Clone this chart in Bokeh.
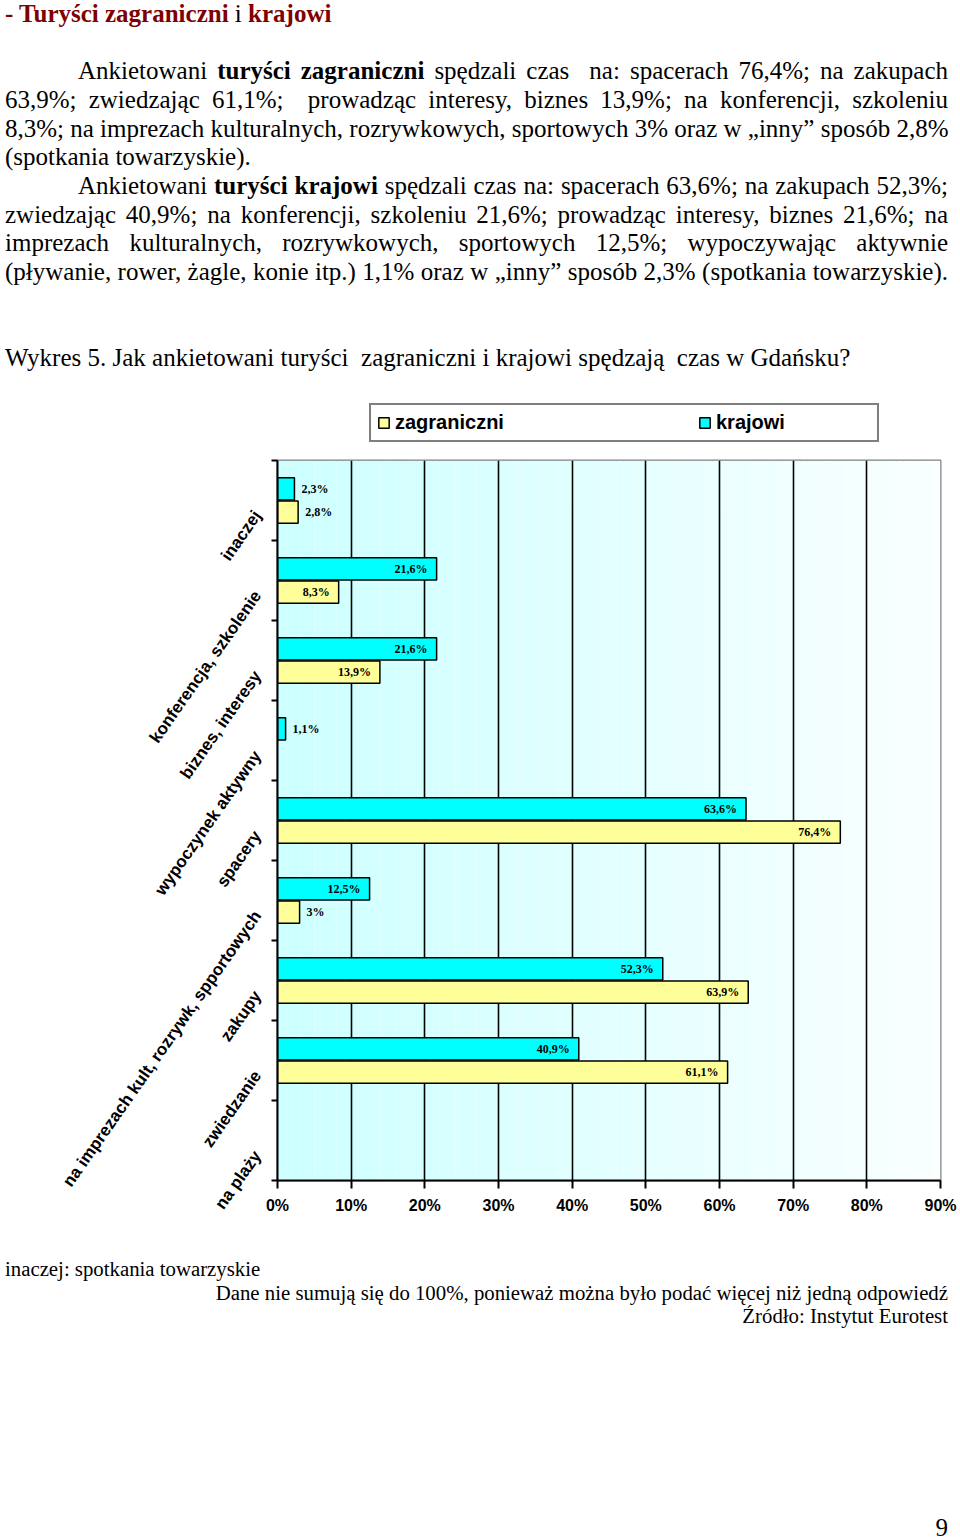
import numpy as np
from bokeh.plotting import figure
from bokeh.models import (ColumnDataSource, FixedTicker, PrintfTickFormatter, Legend,
                          LegendItem, LabelSet, Range1d, Div)
from bokeh.layouts import column
from bokeh.embed import file_html
from bokeh.resources import INLINE

# ---------------- data ----------------
categories = ["na plaży", "zwiedzanie", "zakupy",
              "na imprezach kult, rozrywk, spportowych", "spacery",
              "wypoczynek aktywny", "biznes, interesy",
              "konferencja, szkolenie", "inaczej"]
nan = float("nan")
zagraniczni = [nan, 61.1, 63.9, 3.0, 76.4, nan, 13.9, 8.3, 2.8]
krajowi = [nan, 40.9, 52.3, 12.5, 63.6, 1.1, 21.6, 21.6, 2.3]
series_names = ["zagraniczni", "krajowi"]
x_ticks = [0, 10, 20, 30, 40, 50, 60, 70, 80, 90]

YELLOW = "#FFFF99"
CYAN = "#00FFFF"
FONT = "Liberation Sans"


def fmt(v):
    if float(v).is_integer():
        return "%d%%" % int(v)
    return ("%.1f" % v).replace(".", ",") + "%"


n = len(categories)
centers = np.arange(n) + 0.5
boundaries = np.arange(n + 1)
OFF = 0.145
BAR_H = 0.28
LABEL_SHIFT = 0.15   # rotated category labels sit a little below the centre


def make_source(values, offset):
    ys, vs, labs = [], [], []
    for c, v in zip(centers, values):
        if np.isnan(v):
            continue
        ys.append(c + offset)
        vs.append(v)
        labs.append(fmt(v))
    return ColumnDataSource(dict(y=ys, value=vs, label=labs))


src_z = make_source(zagraniczni, -OFF)
src_k = make_source(krajowi, +OFF)

BL, BR = 277, 18
x_lo, x_hi = x_ticks[0], x_ticks[-1]
p = figure(x_range=Range1d(x_lo, x_hi), y_range=Range1d(0, n),
           frame_width=663, frame_height=720,
           min_border_left=BL, min_border_right=BR,
           min_border_top=5, min_border_bottom=50,
           output_backend="svg", toolbar_location=None,
           background_fill_color="white", border_fill_color="white")

# gradient background of the plot area (light cyan -> near white)
edges = np.linspace(x_lo, x_hi, 91)
tt = (edges[:-1] + edges[1:]) / 2 / (x_hi - x_lo)
c0 = np.array([204, 255, 255])
c1 = np.array([250, 255, 255])
cols = ["#%02x%02x%02x" % tuple(int(round(a)) for a in (c0 + (c1 - c0) * t)) for t in tt]
p.quad(left=edges[:-1], right=edges[1:], bottom=0, top=n, fill_color=cols,
       line_color=None, level="image")

rk = p.hbar(y="y", right="value", left=0, height=BAR_H, source=src_k,
            fill_color=CYAN, line_color="black", line_width=1.5)
rz = p.hbar(y="y", right="value", left=0, height=BAR_H, source=src_z,
            fill_color=YELLOW, line_color="black", line_width=1.5)

# data labels
THR = 5
for src in (src_z, src_k):
    d = src.data
    inside = [i for i, v in enumerate(d["value"]) if v >= THR]
    outside = [i for i, v in enumerate(d["value"]) if v < THR]
    s_in = ColumnDataSource({k: [d[k][i] for i in inside] for k in d})
    s_out = ColumnDataSource({k: [d[k][i] for i in outside] for k in d})
    p.add_layout(LabelSet(x="value", y="y", text="label", source=s_in,
                          x_offset=-9, text_align="right", text_baseline="middle",
                          text_font=FONT, text_font_style="bold",
                          text_font_size="12px", text_color="black"))
    p.add_layout(LabelSet(x="value", y="y", text="label", source=s_out,
                          x_offset=7, text_align="left", text_baseline="middle",
                          text_font=FONT, text_font_style="bold",
                          text_font_size="12px", text_color="black"))

# grid / outline
p.ygrid.visible = False
p.xgrid.ticker = FixedTicker(ticks=x_ticks[1:-1])
p.xgrid.grid_line_color = "black"
p.xgrid.grid_line_width = 1.6
p.outline_line_color = "#808080"
p.outline_line_width = 2

# x axis
xa = p.xaxis[0]
xa.ticker = FixedTicker(ticks=x_ticks)
xa.formatter = PrintfTickFormatter(format="%d%%")
xa.axis_line_color = "black"
xa.axis_line_width = 2
xa.major_tick_out = 8
xa.major_tick_in = 0
xa.major_tick_line_width = 2
xa.minor_tick_out = 0
xa.minor_tick_in = 0
xa.major_label_standoff = 8
xa.major_label_text_font = FONT
xa.major_label_text_font_style = "bold"
xa.major_label_text_font_size = "16px"
xa.major_label_text_color = "black"

# y axis: labels near category centres, tick marks at category boundaries
label_pos = centers - LABEL_SHIFT
ya = p.yaxis[0]
ya.ticker = FixedTicker(ticks=list(label_pos), minor_ticks=list(boundaries))
ya.major_label_overrides = {float(c): lab for c, lab in zip(label_pos, categories)}
ya.axis_line_color = "black"
ya.axis_line_width = 2
ya.major_tick_out = 0
ya.major_tick_in = 0
ya.minor_tick_out = 6
ya.minor_tick_in = 0
ya.minor_tick_line_width = 2
ya.minor_tick_line_color = "black"
ya.major_label_standoff = 14
ya.major_label_orientation = 0.96
ya.major_label_text_font = FONT
ya.major_label_text_font_style = "bold"
ya.major_label_text_font_size = "17px"
ya.major_label_text_color = "black"

# ---------------- legend (own strip above the chart) ----------------
# hidden proxy renderers only supply the legend swatches
pl = figure(x_range=Range1d(x_lo, x_hi), y_range=Range1d(-2, -1),
            frame_width=663, frame_height=65,
            min_border_left=BL, min_border_right=BR, min_border_top=0, min_border_bottom=0,
            x_axis_location=None, y_axis_location=None,
            output_backend="svg", toolbar_location=None,
            background_fill_color="white", border_fill_color="white",
            outline_line_color=None)
pl.grid.visible = False
lz = pl.hbar(y="y", right="value", left=0, height=BAR_H, source=src_z,
             fill_color=YELLOW, line_color="black", line_width=1.5)
lk = pl.hbar(y="y", right="value", left=0, height=BAR_H, source=src_k,
             fill_color=CYAN, line_color="black", line_width=1.5)
lz.visible = False
lk.visible = False
legend = Legend(items=[LegendItem(label=series_names[0], renderers=[lz]),
                       LegendItem(label=series_names[1], renderers=[lk])],
                orientation="horizontal", location=(369 - BL, 13), margin=0,
                padding=6, spacing=148, label_width=155,
                glyph_width=13, glyph_height=13, label_standoff=5,
                border_line_color="black", border_line_width=2,
                background_fill_color="white", background_fill_alpha=1,
                label_text_font=FONT, label_text_font_style="bold",
                label_text_font_size="20px", label_text_color="black")
pl.add_layout(legend)

# ---------------- page texts ----------------
J = "text-align:justify;text-align-last:justify;white-space:nowrap;"
header_html = (
    '<div style="font-family:\'Liberation Serif\',serif;font-size:25px;'
    'line-height:28.67px;color:#000;width:943px;">'
    '<div style="font-weight:bold;color:#800000;white-space:pre">- Turyści zagraniczni '
    '<span style="font-weight:normal;color:#000">i</span> krajowi</div>'
    '<div>&nbsp;</div>'
    f'<div style="{J}text-indent:73px">Ankietowani <b>turyści zagraniczni</b> spędzali czas&nbsp; na: spacerach 76,4%; na zakupach</div>'
    f'<div style="{J}">63,9%; zwiedzając 61,1%;&nbsp; prowadząc interesy, biznes 13,9%; na konferencji, szkoleniu</div>'
    f'<div style="{J}">8,3%; na imprezach kulturalnych, rozrywkowych, sportowych 3% oraz w „inny” sposób 2,8%</div>'
    '<div style="white-space:nowrap">(spotkania towarzyskie).</div>'
    f'<div style="{J}text-indent:73px">Ankietowani <b>turyści krajowi</b> spędzali czas na: spacerach 63,6%; na zakupach 52,3%;</div>'
    f'<div style="{J}">zwiedzając 40,9%; na konferencji, szkoleniu 21,6%; prowadząc interesy, biznes 21,6%; na</div>'
    f'<div style="{J}">imprezach kulturalnych, rozrywkowych, sportowych 12,5%; wypoczywając aktywnie</div>'
    f'<div style="{J}">(pływanie, rower, żagle, konie itp.) 1,1% oraz w „inny” sposób 2,3% (spotkania towarzyskie).</div>'
    '<div>&nbsp;</div><div>&nbsp;</div>'
    '<div style="white-space:pre">Wykres 5. Jak ankietowani turyści  zagraniczni i krajowi spędzają  czas w Gdańsku?</div>'
    '</div>'
)
header = Div(text=header_html, width=943, height=390, margin=(0, 0, 0, 5))

footer_html = (
    '<div style="font-family:\'Liberation Serif\',serif;font-size:20.8px;'
    'line-height:23.5px;color:#000;width:943px;padding-top:27px;">'
    '<div>inaczej: spotkania towarzyskie</div>'
    '<div style="text-align:right">Dane nie sumują się do 100%, ponieważ można było podać więcej niż jedną odpowiedź</div>'
    '<div style="text-align:right">Źródło: Instytut Eurotest</div>'
    '</div>'
)
footer = Div(text=footer_html, width=943, height=100, margin=(0, 0, 0, 5))

page_html = (
    '<div style="font-family:\'Liberation Serif\',serif;font-size:25px;'
    'line-height:20px;color:#000;width:943px;padding-top:188px;text-align:right">9</div>'
)
pagenum = Div(text=page_html, width=943, height=208, margin=(0, 0, 0, 5))

layout = column(header, pl, p, footer, pagenum)

with open("out.html", "w") as f:
    f.write(file_html(layout, INLINE))
